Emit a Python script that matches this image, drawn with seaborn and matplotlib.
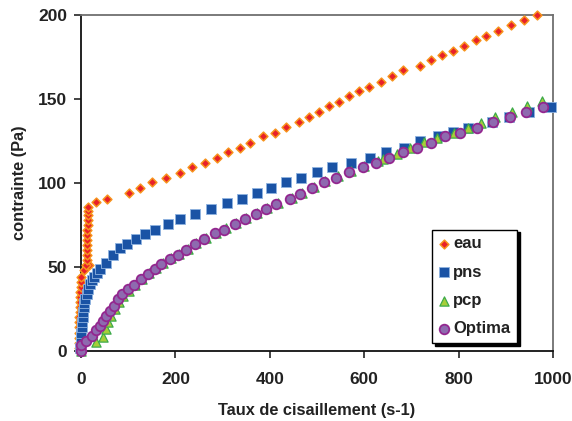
import matplotlib
matplotlib.use("Agg")
import matplotlib.pyplot as plt
import pandas as pd
import seaborn as sns

# shear rate (s-1) / stress (Pa)
eau_x = [-5, -5, -4.5, -4.5, -4, -4, -3.5, -3, -3, -2.5, -2, -1.5, -1, 0, 1, 6, 16, 11.5, 12, 12.5,
         13, 13, 13, 13.5, 13.5, 14, 14, 14, 14, 14, 32, 56, 101, 124, 150, 180, 209, 235, 262, 288,
         311, 336, 359, 386, 411, 435, 462, 483, 504, 525, 547, 568, 589, 611, 635, 659, 683, 718, 741, 765,
         788, 812, 836, 859, 884, 911, 938, 967]
eau_y = [2, 5, 8, 11, 14, 17, 20, 23, 26, 29, 32, 35, 38, 41, 44, 48, 51, 51, 54, 57,
         60, 63, 66, 69, 72, 75, 78, 81, 83.5, 85.5, 88.5, 90.5, 94, 97, 100.4, 103, 106, 109.5, 112, 115,
         118.4, 121, 124, 127.7, 130, 133.5, 136.4, 139, 142, 145.7, 148, 151.5, 155, 157, 160.4, 163.8, 167, 169.5, 173, 176,
         178.8, 181.8, 185, 187.7, 190.7, 194, 196.8, 200]

pns_x = [-2, -1, 0, 1, 2, 3, 4, 5, 6, 7, 9, 12, 15, 19, 24, 28, 34, 40, 52, 68, 83, 97.5, 117, 136, 156,
         184, 209, 242, 276, 310, 342, 373, 403.5, 434.6, 467, 500, 532, 572, 613, 647, 684, 719, 757, 789,
         820, 870, 907, 950, 995]
pns_y = [2, 5, 8, 11, 14, 17, 20, 23, 26, 28.5, 31, 34, 37, 40, 42, 44, 46.5, 49, 52.5, 57.4, 61.4, 63.4, 66.7, 69.7, 72.3,
         75.6, 78.8, 81.6, 84.8, 88, 90.7, 94, 97, 100.4, 103, 106.3, 109.5, 112, 115, 118.6, 121, 124.8, 127.7, 130.5,
         133, 136.4, 139, 142.4, 145.5]

pcp_x = [0, 32, 46, 52, 58, 64, 72, 80, 90, 101, 115, 129, 144, 158, 173, 190, 208, 226, 244, 264,
         286, 307, 329, 350, 373, 395, 418, 446, 469, 494, 518, 545, 572, 600, 630, 640, 669, 698, 726, 755,
         790, 820, 848, 878, 913, 945, 977]
pcp_y = [0, 5.5, 8.5, 13, 17, 21, 25, 29, 33, 36, 39.5, 43, 46.5, 49.5, 52.5, 55.5, 58, 61, 64, 67.5,
         70.5, 73, 76, 79, 82, 85, 88, 91, 94, 97.5, 101, 104, 107, 110, 113, 114.5, 117, 121, 124.4, 127,
         130, 133, 136, 139.5, 142.5, 146, 149]

opt_x = [0, 0, 11, 23, 32.5, 41, 46.6, 53.7, 61, 69, 78.4, 87, 99, 113, 127, 141, 156, 170, 188, 206,
         223, 241, 261.5, 283, 304, 326, 347, 370, 391, 414, 442, 465, 490, 514.5, 540.6, 567.5, 597, 624, 652, 683,
         711, 740.6, 772, 804, 838, 873, 908, 943.5, 979.5]
opt_y = [0, 3.4, 6, 9, 12.3, 15, 17.8, 21, 23.8, 27, 30.7, 33.7, 36.6, 39.4, 43, 46, 49, 51.9, 54.9, 57.4,
         60.4, 63.4, 66.7, 70.3, 72.3, 75.6, 78.8, 81.6, 84.8, 87.7, 90.7, 93.7, 97, 100.4, 103, 106.3, 109.5, 112, 115, 118.4,
         121, 124, 127.7, 130, 133, 136.4, 139.2, 142.4, 145.5]

sns.set_style("white")
plt.rcParams['font.family'] = ['Liberation Sans', 'DejaVu Sans']

fig = plt.figure(figsize=(5.72, 4.21), dpi=100)
ax = fig.add_axes([0.1416, 0.1663, 0.8252, 0.7981])

series = [
    ("eau", eau_x, eau_y, "D", 20, "#E8202A", "#F7941D", 1.1),
    ("pns", pns_x, pns_y, "s", 44, "#1A53A5", "#8FB3E0", 0.6),
    ("pcp", pcp_x, pcp_y, "^", 44, "#A6CE39", "#3DAA4A", 0.9),
    ("Optima", opt_x, opt_y, "o", 48, "#8E6AAF", "#93278F", 1.3),
]
for name, xs, ys, mk, size, fc, ec, lw in series:
    df = pd.DataFrame({"x": xs, "y": ys})
    sns.scatterplot(data=df, x="x", y="y", ax=ax, marker=mk, s=size, color=fc,
                    edgecolor=ec, linewidth=lw, label=name, clip_on=False, zorder=3)

ax.set_xlim(0, 1000)
ax.set_ylim(0, 200)
ax.set_xticks(range(0, 1001, 200))
ax.set_yticks(range(0, 201, 50))
for side in ["left", "bottom"]:
    ax.spines[side].set_color("#111111")
    ax.spines[side].set_linewidth(1.3)
for side in ["top", "right"]:
    ax.spines[side].set_color("#707070")
    ax.spines[side].set_linewidth(1.3)
ax.tick_params(axis="both", direction="out", length=5, width=1.1, color="#111111",
               labelsize=12.5, left=True, bottom=True)
ax.tick_params(axis="x", pad=10)
ax.tick_params(axis="y", pad=5)
for lab in ax.get_xticklabels() + ax.get_yticklabels():
    lab.set_fontweight("bold")
    lab.set_color("#222222")

ax.set_xlabel("Taux de cisaillement (s-1)", fontsize=11.8, fontweight="bold", color="#222222", labelpad=12)
ax.set_ylabel("contrainte (Pa)", fontsize=11.8, fontweight="bold", color="#222222", labelpad=8)

leg = ax.legend(loc="lower left", bbox_to_anchor=(0.744, 0.024), frameon=True, fancybox=False,
                shadow={"facecolor": "black", "edgecolor": "black", "alpha": 1},
                prop={"weight": "bold", "size": 12}, handlelength=0.6, handletextpad=0.25,
                labelspacing=0.8, borderpad=0.4, borderaxespad=0)
leg.get_frame().set_edgecolor("black")
leg.get_frame().set_linewidth(1.0)
for t in leg.get_texts():
    t.set_color("#222222")

fig.savefig("out.png", dpi=100)
